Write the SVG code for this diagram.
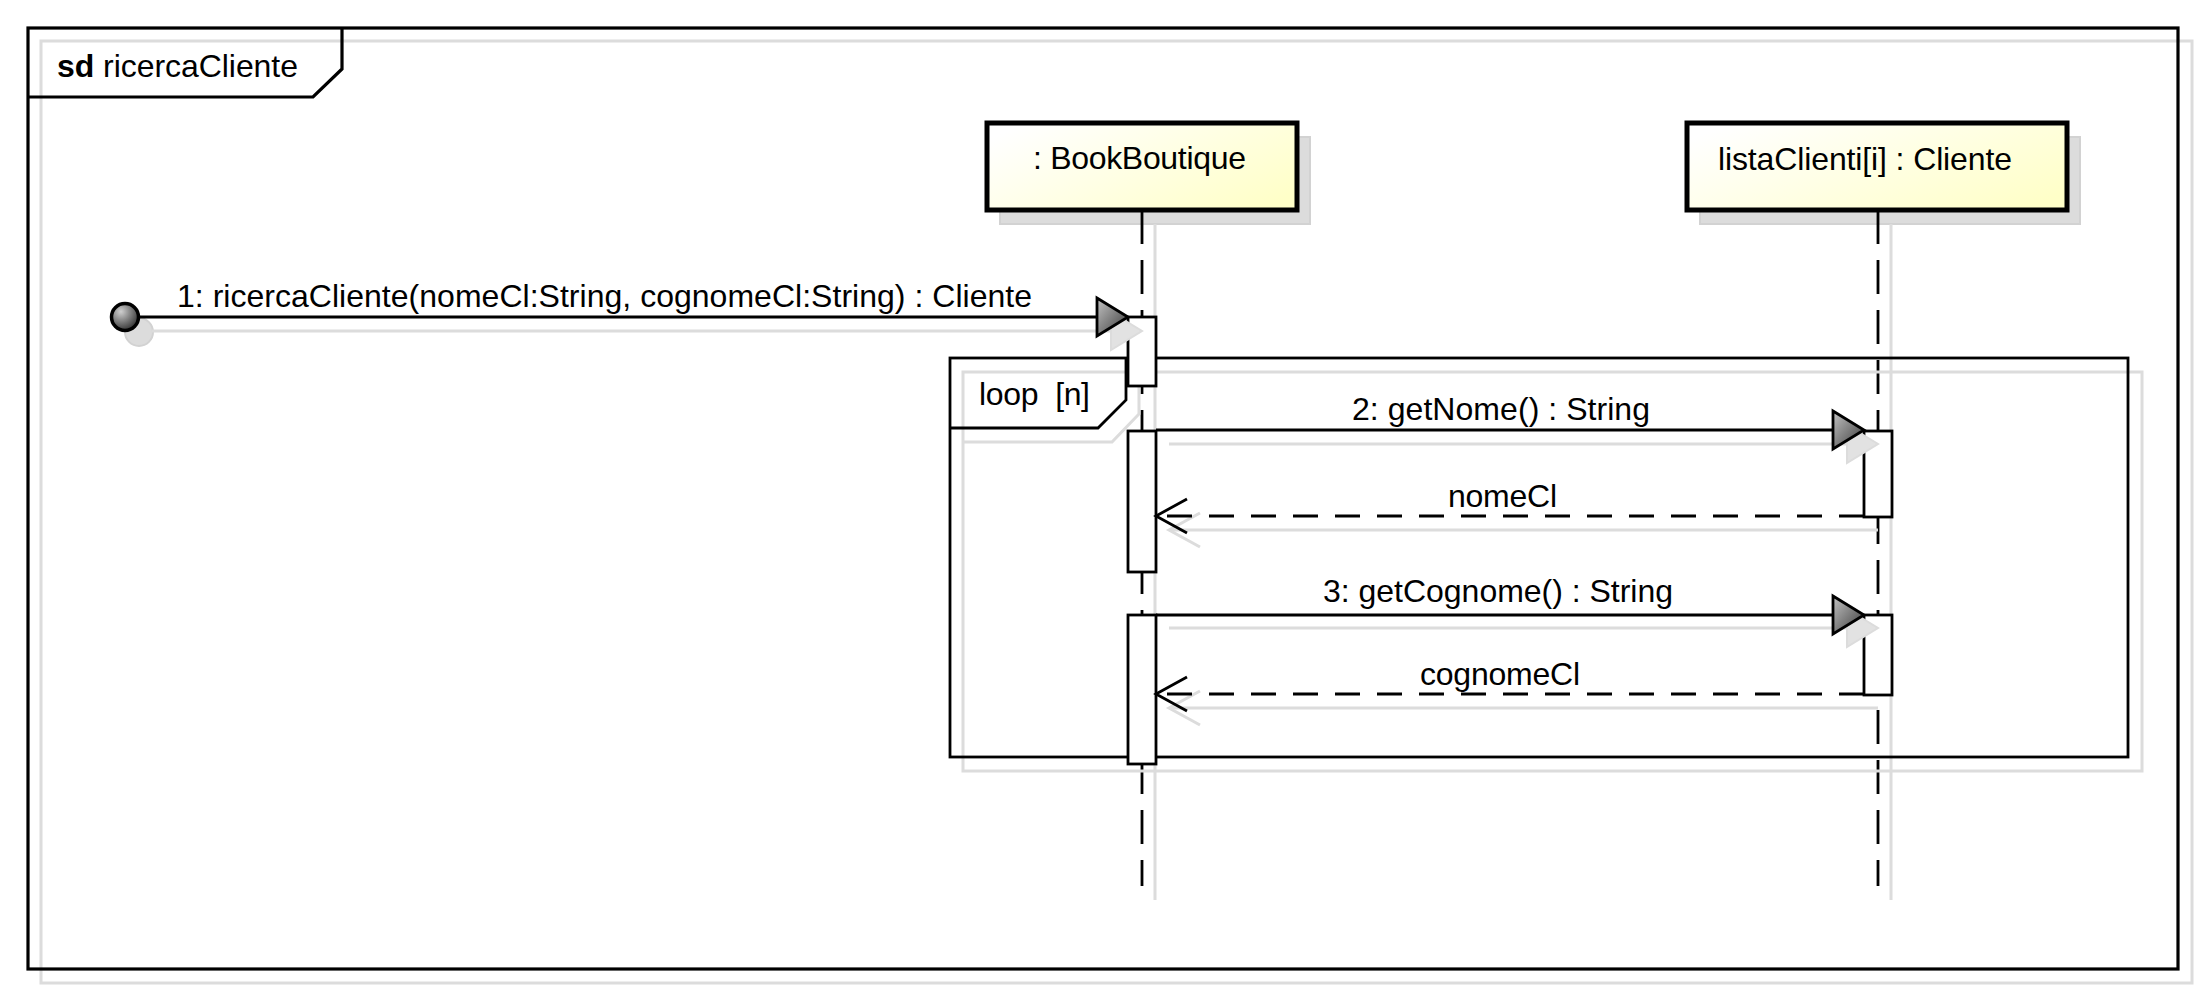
<svg xmlns="http://www.w3.org/2000/svg" xmlns:xlink="http://www.w3.org/1999/xlink" width="2205" height="997" viewBox="0 0 2205 997">
<defs>
<style>
text{font-family:"Liberation Sans",Arial,sans-serif;font-size:32px;fill:#000}
.frame{fill:none;stroke:#000;stroke-width:3.2}
.frag{fill:none;stroke:#000;stroke-width:2.8}
.sh{fill:none;stroke:#dcdcdc;stroke-width:3}
.shf{fill:#dcdcdc;stroke:#d2d2d2;stroke-width:2}
.box{fill:url(#boxGrad);stroke:#000;stroke-width:5}
.life{stroke:#000;stroke-width:2.8;stroke-dasharray:34 16;fill:none}
.bar{fill:#fff;stroke:#000;stroke-width:2.8}
.msg{stroke:#000;stroke-width:2.8;fill:none}
.ret{stroke:#000;stroke-width:2.8;stroke-dasharray:25 17;fill:none}
.head{fill:url(#headGrad);stroke:#000;stroke-width:2.8;stroke-linejoin:miter}
.shhead{fill:#e2e2e2;stroke:#dcdcdc;stroke-width:2}
.openhead{fill:none;stroke:#000;stroke-width:2.8}
.shopen{fill:none;stroke:#dcdcdc;stroke-width:3}
</style>
<linearGradient id="boxGrad" x1="0" y1="0.2" x2="1" y2="0.8"><stop offset="0" stop-color="#ffffff"/><stop offset="1" stop-color="#ffffc8"/></linearGradient>
<linearGradient id="headGrad" x1="0" y1="0" x2="1" y2="1"><stop offset="0" stop-color="#c4c4c4"/><stop offset="1" stop-color="#383838"/></linearGradient>
<radialGradient id="startGrad" cx="0.35" cy="0.3" r="0.75"><stop offset="0" stop-color="#cfcfcf"/><stop offset="1" stop-color="#2e2e2e"/></radialGradient>
<path id="tri" d="M-31,-19 L0,0 L-31,19 Z"/>
<path id="open" d="M31,-17 L0,0 L31,17"/>
</defs>
<rect x="0" y="0" width="2205" height="997" fill="#fff"/>

<g id="frame-sd">
<rect class="sh" x="41" y="41" width="2151" height="942"/>
<rect class="frame" x="28" y="28" width="2150" height="941"/>
<path class="frame" d="M28,97 L313,97 L342,69 L342,28"/>
<text x="57" y="77" textLength="241" lengthAdjust="spacing"><tspan font-weight="bold">sd</tspan> ricercaCliente</text>
</g>

<g id="lifeline-bookboutique">
<rect class="shf" x="1000" y="137" width="310" height="87"/>
<line class="sh" x1="1155" y1="224" x2="1155" y2="900"/>
<rect class="box" x="987" y="123" width="310" height="87"/>
<text x="1033" y="169" textLength="213" lengthAdjust="spacing">: BookBoutique</text>
<line class="life" x1="1142" y1="210" x2="1142" y2="886"/>
</g>

<g id="lifeline-cliente">
<rect class="shf" x="1700" y="137" width="380" height="87"/>
<line class="sh" x1="1891" y1="224" x2="1891" y2="900"/>
<rect class="box" x="1687" y="123" width="380" height="87"/>
<text x="1718" y="170" textLength="294" lengthAdjust="spacing">listaClienti[i] : Cliente</text>
<line class="life" x1="1878" y1="210" x2="1878" y2="886"/>
</g>

<g id="loop-fragment">
<rect class="sh" x="963" y="372" width="1179" height="399"/>
<path class="sh" d="M963,442 L1112,442 L1139,414 L1139,372"/>
<rect class="frag" x="950" y="358" width="1178" height="399"/>
<path class="frag" d="M950,428 L1098,428 L1126,400 L1126,358"/>
<text x="979" y="405" textLength="111" lengthAdjust="spacing" style="white-space:pre">loop  [n]</text>
</g>

<g id="start">
<circle cx="139" cy="332" r="14" fill="#dcdcdc" stroke="#d2d2d2" stroke-width="2"/>
</g>

<g id="activations">
<rect class="bar" x="1128" y="317" width="28" height="69"/>
<rect class="bar" x="1128" y="431" width="28" height="141"/>
<rect class="bar" x="1128" y="615" width="28" height="149"/>
<rect class="bar" x="1864" y="431" width="28" height="86"/>
<rect class="bar" x="1864" y="615" width="28" height="80"/>
</g>

<g id="connectors">
<line class="sh" x1="152" y1="331" x2="1112" y2="331"/>
<use href="#tri" xlink:href="#tri" class="shhead" x="1142" y="331"/>
<line class="sh" x1="1169" y1="444" x2="1848" y2="444"/>
<use href="#tri" xlink:href="#tri" class="shhead" x="1878" y="444"/>
<line class="sh" x1="1169" y1="530" x2="1878" y2="530"/>
<use href="#open" xlink:href="#open" class="shopen" x="1169" y="530"/>
<line class="sh" x1="1169" y1="628" x2="1848" y2="628"/>
<use href="#tri" xlink:href="#tri" class="shhead" x="1878" y="628"/>
<line class="sh" x1="1169" y1="708" x2="1878" y2="708"/>
<use href="#open" xlink:href="#open" class="shopen" x="1169" y="708"/>

<g id="msg1">
<line class="msg" x1="138" y1="317" x2="1097" y2="317"/>
<circle cx="125" cy="317" r="13.5" fill="url(#startGrad)" stroke="#000" stroke-width="3.5"/>
<use href="#tri" xlink:href="#tri" class="head" x="1128" y="317"/>
<text x="177" y="307" textLength="855" lengthAdjust="spacing">1: ricercaCliente(nomeCl:String, cognomeCl:String) : Cliente</text>
</g>
<g id="msg2">
<line class="msg" x1="1156" y1="430" x2="1833" y2="430"/>
<use href="#tri" xlink:href="#tri" class="head" x="1864" y="430"/>
<text x="1352" y="420" textLength="298" lengthAdjust="spacing">2: getNome() : String</text>
</g>
<g id="ret2">
<path class="ret" d="M1864,516 L1156,516"/>
<use href="#open" xlink:href="#open" class="openhead" x="1156" y="516"/>
<text x="1448" y="507" textLength="109" lengthAdjust="spacing">nomeCl</text>
</g>
<g id="msg3">
<line class="msg" x1="1156" y1="615" x2="1833" y2="615"/>
<use href="#tri" xlink:href="#tri" class="head" x="1864" y="615"/>
<text x="1323" y="602" textLength="350" lengthAdjust="spacing">3: getCognome() : String</text>
</g>
<g id="ret3">
<path class="ret" d="M1864,694 L1156,694"/>
<use href="#open" xlink:href="#open" class="openhead" x="1156" y="694"/>
<text x="1420" y="685" textLength="160" lengthAdjust="spacing">cognomeCl</text>
</g>
</g>
</svg>
